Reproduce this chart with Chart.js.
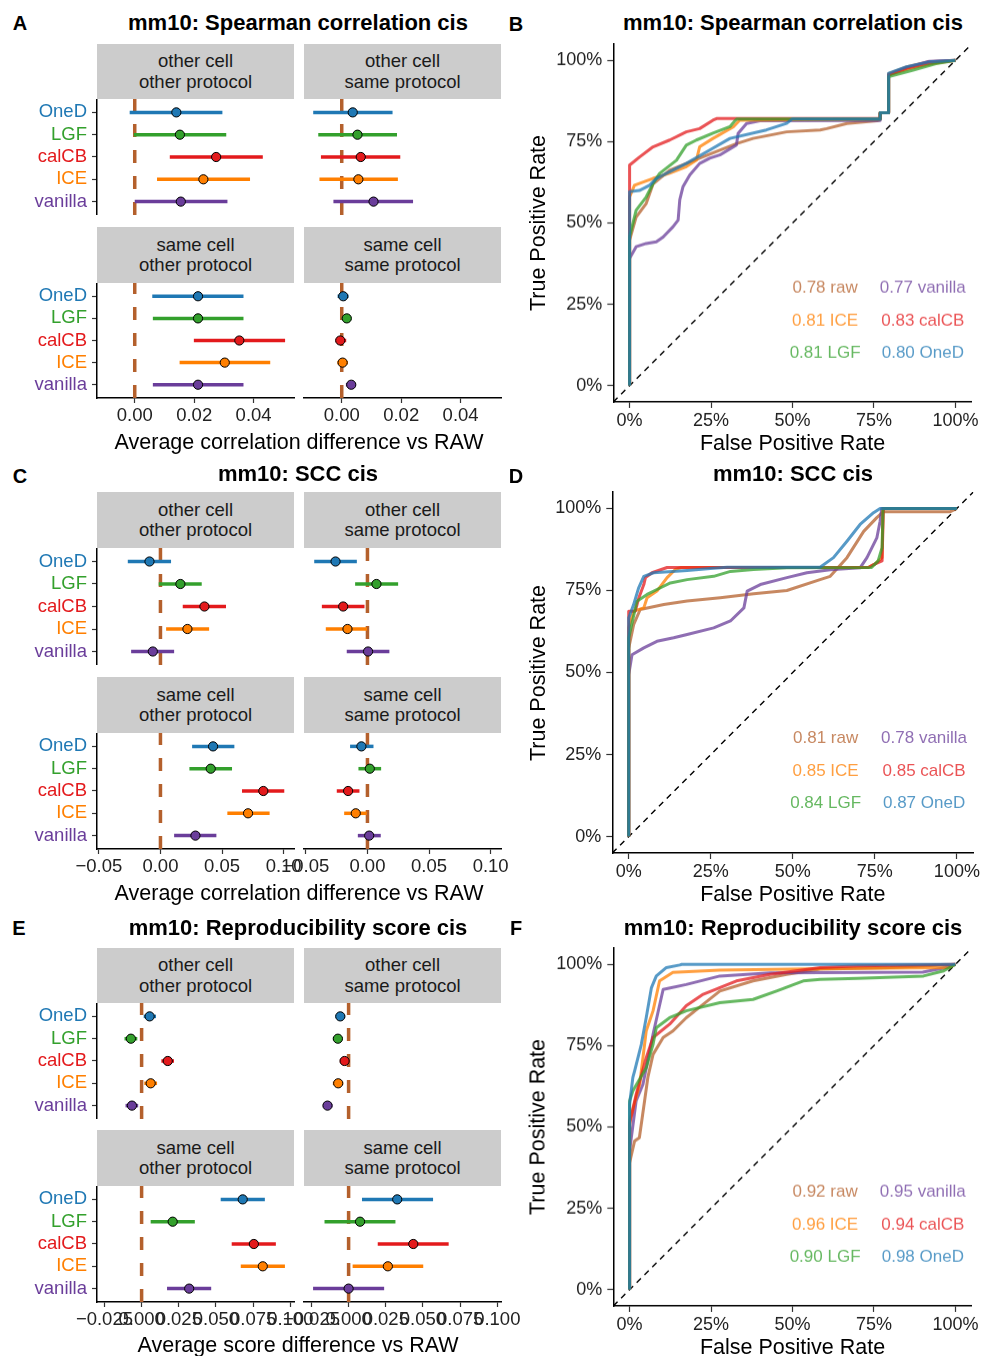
<!DOCTYPE html>
<html>
<head>
<meta charset="utf-8">
<script src="https://cdn.jsdelivr.net/npm/chart.js@4.4.1/dist/chart.umd.min.js"></script>
<style>
  body { margin: 0; background: #fff; width: 982px; height: 1356px; position: relative; overflow: hidden;
         font-family: "Liberation Sans", Arial, sans-serif; color: #000; }
  canvas { position: absolute; }
  .t { position: absolute; transform: translate(-50%, -50%); white-space: nowrap; }
  .tag { font-weight: bold; font-size: 20px; }
  .title { font-weight: bold; font-size: 22px; }
  .axt { font-size: 21.5px; }
  .yt { transform: translate(-50%, -50%) rotate(-90deg); }
  .strip { position: absolute; background: #cccccc; color: #1a1a1a; font-size: 18.5px; line-height: 20.5px;
           display: flex; align-items: center; justify-content: center; text-align: center; }
</style>
</head>
<body>
<script>
// ---- data ----------------------------------------------------------------
const methods = ['OneD', 'LGF', 'calCB', 'ICE', 'vanilla'];
const methodColors = ['#1F78B4', '#33A02C', '#E31A1C', '#FF7F00', '#6A3D9A'];
const rawColor = '#B4602C';
const facetNames = [['other cell', 'other protocol'], ['other cell', 'same protocol'],
                    ['same cell', 'other protocol'], ['same cell', 'same protocol']];

// mean difference vs RAW and its interval, one row per facet (order of facetNames)
const spearmanMean = [[0.0140, 0.0152, 0.0274, 0.0231, 0.0155],
                      [0.0037, 0.0053, 0.0064, 0.0056, 0.0107],
                      [0.0213, 0.0213, 0.0352, 0.0303, 0.0213],
                      [0.0005, 0.0017, -0.0005, 0.0003, 0.0032]];
const spearmanLow  = [[-0.0017, -0.0003, 0.0118, 0.0075, 0.0000],
                      [-0.0096, -0.0079, -0.0070, -0.0075, -0.0028],
                      [0.0059, 0.0061, 0.0199, 0.0151, 0.0061],
                      [-0.0014, 0.0000, -0.0021, -0.0015, 0.0014]];
const spearmanHigh = [[0.0295, 0.0308, 0.0431, 0.0388, 0.0312],
                      [0.0171, 0.0186, 0.0197, 0.0189, 0.0240],
                      [0.0366, 0.0366, 0.0506, 0.0456, 0.0366],
                      [0.0023, 0.0032, 0.0015, 0.0021, 0.0048]];

const sccMean = [[-0.0089, 0.0162, 0.0357, 0.0219, -0.0062],
                 [-0.0259, 0.0073, -0.0197, -0.0162, 0.0005],
                 [0.0427, 0.0408, 0.0835, 0.0711, 0.0284],
                 [-0.0049, 0.0019, -0.0157, -0.0095, 0.0014]];
const sccLow  = [[-0.0265, -0.0014, 0.0181, 0.0046, -0.0238],
                 [-0.0432, -0.0100, -0.0370, -0.0338, -0.0168],
                 [0.0257, 0.0235, 0.0662, 0.0543, 0.0111],
                 [-0.0141, -0.0073, -0.0249, -0.0189, -0.0078]];
const sccHigh = [[0.0086, 0.0335, 0.0532, 0.0395, 0.0111],
                 [-0.0086, 0.0249, -0.0024, -0.0003, 0.0178],
                 [0.0600, 0.0581, 0.1005, 0.0886, 0.0454],
                 [0.0049, 0.0111, -0.0065, -0.0005, 0.0108]];

const reproMean = [[0.0054, -0.0072, 0.0176, 0.0061, -0.0065],
                   [-0.0056, -0.0072, -0.0027, -0.0070, -0.0142],
                   [0.0680, 0.0209, 0.0755, 0.0815, 0.0320],
                   [0.0327, 0.0077, 0.0435, 0.0264, 0.0000]];
const reproLow  = [[0.0014, -0.0115, 0.0133, 0.0018, -0.0108],
                   [-0.0088, -0.0106, -0.0059, -0.0106, -0.0173],
                   [0.0532, 0.0061, 0.0606, 0.0667, 0.0171],
                   [0.0090, -0.0162, 0.0196, 0.0027, -0.0239]];
const reproHigh = [[0.0097, -0.0029, 0.0218, 0.0104, -0.0023],
                   [-0.0023, -0.0041, 0.0005, -0.0036, -0.0108],
                   [0.0829, 0.0358, 0.0903, 0.0964, 0.0468],
                   [0.0568, 0.0315, 0.0673, 0.0502, 0.0239]];

const spearmanTicks = [0, 0.02, 0.04];
const spearmanTickText = ['0.00', '0.02', '0.04'];
const sccTicks = [-0.05, 0, 0.05, 0.10];
const sccTickText = ['\u22120.05', '0.00', '0.05', '0.10'];
const reproTicks = [-0.025, 0, 0.025, 0.05, 0.075, 0.1];
const reproTickText = ['\u22120.025', '0.000', '0.025', '0.050', '0.075', '0.100'];

// ROC curves: [false positive rate, true positive rate]
const rocMethods = ['raw', 'vanilla', 'ICE', 'calCB', 'LGF', 'OneD'];
const rocColors = ['rgba(180,96,44,0.75)', 'rgba(106,61,154,0.75)', 'rgba(255,127,0,0.75)',
                   'rgba(227,26,28,0.75)', 'rgba(51,160,44,0.75)', 'rgba(31,120,180,0.75)'];
const rocTicks = [0, 0.25, 0.5, 0.75, 1];
const rocTickText = ['0%', '25%', '50%', '75%', '100%'];

const spearmanRoc = [
  [[0,0],[0,0.447],[0.02,0.518],[0.051,0.56],[0.072,0.62],[0.123,0.662],[0.174,0.683],[0.277,0.724],[0.328,0.744],[0.379,0.76],[0.482,0.78],[0.585,0.786],[0.605,0.79],[0.667,0.806],[0.759,0.814],[0.769,0.818],[0.769,0.839],[0.795,0.839],[0.795,0.959],[0.851,0.98],[0.913,0.995],[1,1]],
  [[0,0],[0,0.391],[0.02,0.427],[0.051,0.437],[0.082,0.442],[0.103,0.457],[0.133,0.488],[0.149,0.509],[0.154,0.571],[0.164,0.612],[0.185,0.648],[0.215,0.683],[0.246,0.699],[0.277,0.709],[0.328,0.74],[0.333,0.775],[0.359,0.806],[0.4,0.814],[0.769,0.815],[0.769,0.839],[0.795,0.839],[0.795,0.955],[0.851,0.978],[0.92,0.997],[1,1]],
  [[0,0],[0,0.58],[0.015,0.616],[0.072,0.637],[0.123,0.653],[0.174,0.673],[0.205,0.693],[0.215,0.734],[0.256,0.76],[0.318,0.795],[0.338,0.816],[0.769,0.82],[0.769,0.839],[0.795,0.839],[0.795,0.955],[0.86,0.975],[0.93,0.99],[1,1]],
  [[0,0],[0,0.678],[0.031,0.703],[0.072,0.734],[0.123,0.755],[0.174,0.78],[0.215,0.79],[0.256,0.816],[0.267,0.821],[0.769,0.821],[0.769,0.839],[0.795,0.839],[0.795,0.955],[0.85,0.975],[0.91,0.99],[1,1]],
  [[0,0],[0,0.458],[0.02,0.539],[0.051,0.58],[0.072,0.621],[0.092,0.652],[0.144,0.693],[0.174,0.739],[0.205,0.755],[0.256,0.776],[0.308,0.796],[0.323,0.814],[0.33,0.82],[0.769,0.82],[0.769,0.839],[0.795,0.839],[0.795,0.95],[0.87,0.97],[0.94,0.99],[1,1]],
  [[0,0],[0,0.596],[0.03,0.6],[0.0615,0.616],[0.082,0.637],[0.174,0.683],[0.246,0.724],[0.308,0.76],[0.42,0.786],[0.482,0.806],[0.5,0.82],[0.769,0.82],[0.769,0.839],[0.795,0.839],[0.795,0.96],[0.85,0.98],[0.92,0.995],[1,1]]
];
const sccRoc = [
  [[0,0],[0,0.574],[0.015,0.646],[0.035,0.692],[0.107,0.707],[0.178,0.718],[0.279,0.728],[0.381,0.74],[0.482,0.75],[0.583,0.783],[0.614,0.793],[0.665,0.85],[0.716,0.93],[0.756,0.972],[0.776,0.99],[0.98,0.99],[1,1]],
  [[0,0],[0,0.493],[0.01,0.554],[0.046,0.575],[0.086,0.595],[0.137,0.606],[0.178,0.616],[0.259,0.636],[0.31,0.657],[0.351,0.697],[0.361,0.748],[0.401,0.768],[0.482,0.789],[0.543,0.804],[0.614,0.813],[0.705,0.819],[0.726,0.85],[0.756,0.91],[0.766,0.961],[0.771,1],[1,1]],
  [[0,0],[0,0.636],[0.015,0.687],[0.046,0.697],[0.056,0.728],[0.086,0.748],[0.117,0.789],[0.142,0.814],[0.16,0.82],[0.73,0.82],[0.75,0.83],[0.772,0.85],[0.775,1],[1,1]],
  [[0,0],[0,0.687],[0.02,0.687],[0.031,0.728],[0.046,0.768],[0.051,0.789],[0.071,0.804],[0.117,0.82],[0.73,0.82],[0.746,0.829],[0.772,0.84],[0.776,1],[1,1]],
  [[0,0],[0,0.605],[0.025,0.717],[0.056,0.738],[0.086,0.753],[0.127,0.773],[0.178,0.783],[0.259,0.793],[0.31,0.808],[0.38,0.814],[0.482,0.819],[0.74,0.82],[0.76,0.84],[0.772,0.88],[0.775,1],[1,1]],
  [[0,0],[0,0.666],[0.015,0.707],[0.03,0.757],[0.046,0.793],[0.076,0.804],[0.178,0.811],[0.249,0.817],[0.3,0.821],[0.583,0.821],[0.624,0.85],[0.665,0.9],[0.705,0.951],[0.746,0.987],[0.766,1],[1,1]]
];
const reproRoc = [
  [[0,0],[0,0.39],[0.0154,0.457],[0.03,0.467],[0.046,0.58],[0.056,0.652],[0.072,0.723],[0.103,0.775],[0.133,0.795],[0.174,0.836],[0.226,0.877],[0.277,0.918],[0.379,0.949],[0.482,0.969],[0.585,0.985],[0.8,0.99],[1,1]],
  [[0,0],[0,0.427],[0.02,0.58],[0.041,0.631],[0.072,0.785],[0.103,0.923],[0.174,0.938],[0.277,0.964],[0.431,0.974],[0.9,0.976],[0.97,0.99],[1,1]],
  [[0,0],[0,0.519],[0.031,0.631],[0.051,0.795],[0.072,0.857],[0.092,0.949],[0.133,0.975],[0.277,0.982],[0.6,0.987],[0.98,0.99],[1,1]],
  [[0,0],[0,0.508],[0.02,0.6],[0.051,0.713],[0.072,0.775],[0.123,0.816],[0.174,0.873],[0.226,0.908],[0.328,0.949],[0.431,0.969],[0.585,0.99],[0.7,0.995],[1,1]],
  [[0,0],[0,0.58],[0.01,0.611],[0.051,0.682],[0.072,0.754],[0.082,0.805],[0.123,0.836],[0.174,0.857],[0.277,0.882],[0.379,0.892],[0.451,0.918],[0.533,0.949],[0.585,0.954],[0.7,0.957],[0.902,0.964],[0.964,0.98],[1,1]],
  [[0,0],[0,0.57],[0.01,0.652],[0.0154,0.672],[0.036,0.754],[0.051,0.836],[0.067,0.928],[0.082,0.964],[0.113,0.99],[0.154,0.998],[0.16,1],[1,1]]
];

const spearmanAuc = [0.78, 0.77, 0.81, 0.83, 0.81, 0.80];
const sccAuc      = [0.81, 0.78, 0.85, 0.85, 0.84, 0.87];
const reproAuc    = [0.92, 0.95, 0.96, 0.94, 0.90, 0.98];

// ---- helpers -------------------------------------------------------------
const FONT = 'Liberation Sans';
const TICK_COLOR = '#222';

function addText(cls, text, x, y) {
  const d = document.createElement('div');
  d.className = 't ' + cls;
  d.textContent = text;
  d.style.left = x + 'px';
  d.style.top = y + 'px';
  document.body.appendChild(d);
}

function addStrip(lines, left, top, right, bottom) {
  const d = document.createElement('div');
  d.className = 'strip';
  d.innerHTML = lines.join('<br>');
  Object.assign(d.style, { left: left + 'px', top: top + 'px',
    width: (right - left) + 'px', height: (bottom - top) + 'px' });
  document.body.appendChild(d);
}

function makeCanvas(left, top, w, h) {
  const c = document.createElement('canvas');
  c.width = w; c.height = h;
  Object.assign(c.style, { left: left + 'px', top: top + 'px', width: w + 'px', height: h + 'px' });
  document.body.appendChild(c);
  return c;
}

const COLS = [[97, 294], [304, 501]];

// one facet of a forest plot
function forestFacet(area, xr, ticks, tickText, showY, showX, mean, lo, hi) {
  const X_H = 45;
  const cl = showY ? 0 : area.left - 30;
  const cr = area.right + 30;
  const canvas = makeCanvas(cl, area.top, cr - cl, area.bottom - area.top + (showX ? X_H : 0));

  const yOf = i => methods.length - i;
  const datasets = [];
  // reference line at zero, drawn underneath everything
  datasets.push({ data: [{ x: 0, y: 0.4 }, { x: 0, y: 5.6 }], showLine: true, pointRadius: 0, order: 3,
    borderColor: rawColor, borderWidth: 3.5, borderDash: [13, 13] });
  methods.forEach((m, i) => {
    datasets.push({ data: [{ x: lo[i], y: yOf(i) }, { x: hi[i], y: yOf(i) }], showLine: true, order: 2,
      pointRadius: 0, borderColor: methodColors[i], borderWidth: 3.5, borderCapStyle: 'butt' });
  });
  datasets.push({ data: methods.map((m, i) => ({ x: mean[i], y: yOf(i) })), pointRadius: 4.6, order: 1,
    pointBackgroundColor: methodColors, pointBorderColor: '#000', pointBorderWidth: 1 });

  new Chart(canvas, {
    type: 'scatter',
    data: { datasets },
    options: {
      responsive: false, animation: false, events: [],
      layout: { autoPadding: false,
        padding: { left: showY ? 0 : area.left - cl, right: cr - area.right, top: 0, bottom: 0 } },
      plugins: { legend: { display: false }, tooltip: { enabled: false } },
      scales: {
        x: {
          type: 'linear', min: xr[0], max: xr[1], display: showX,
          border: { display: true, color: '#000', width: 1.5 },
          grid: { drawOnChartArea: false, drawTicks: true, tickLength: 5, tickColor: '#333', tickWidth: 1.2 },
          afterBuildTicks: s => { s.ticks = ticks.map(v => ({ value: v })); },
          ticks: { autoSkip: false, maxRotation: 0, padding: 2, color: TICK_COLOR,
            font: { family: FONT, size: 18.5 }, callback: (v, i) => tickText[i] },
          afterFit: s => { if (showX) { s.height = X_H; s.paddingLeft = 0; s.paddingRight = 0; } }
        },
        y: {
          type: 'linear', min: 0.4, max: 5.6, display: showY,
          border: { display: true, color: '#000', width: 1.5 },
          grid: { drawOnChartArea: false, drawTicks: true, tickLength: 5, tickColor: '#333', tickWidth: 1.2 },
          afterBuildTicks: s => { s.ticks = [1, 2, 3, 4, 5].map(v => ({ value: v })); },
          ticks: { autoSkip: false, padding: 5, font: { family: FONT, size: 18.5 },
            color: ctx => methodColors[methods.length - ctx.tick.value],
            callback: v => methods[methods.length - v] },
          afterFit: s => { if (showY) { s.width = area.left - cl; s.paddingTop = 0; s.paddingBottom = 0; } }
        }
      }
    }
  });
}

function forestPanel(rows, xr, ticks, tickText, mean, lo, hi) {
  // rows: [[stripTop, plotTop, plotBottom], [stripTop, plotTop, plotBottom]]
  for (let r = 0; r < 2; r++) {
    for (let c = 0; c < 2; c++) {
      const f = r * 2 + c;
      const [st, pt, pb] = rows[r];
      addStrip(facetNames[f], COLS[c][0], st, COLS[c][1], pt);
      forestFacet({ left: COLS[c][0], right: COLS[c][1], top: pt, bottom: pb },
        xr, ticks, tickText, c === 0, r === 1, mean[f], lo[f], hi[f]);
    }
  }
}

// ROC panel with AUC labels
const aucSpots = [[0.6, 0.3], [0.9, 0.3], [0.6, 0.2], [0.9, 0.2], [0.6, 0.1], [0.9, 0.1]];

function rocChart(area, curves, auc) {
  const cl = 520, ct = area.top - 12, X_H = 40;
  const canvas = makeCanvas(cl, ct, 982 - cl, area.bottom - ct + X_H);
  const datasets = [{ data: [{ x: -0.05, y: -0.05 }, { x: 1.05, y: 1.05 }], showLine: true, pointRadius: 0,
    order: 100, borderColor: '#000', borderWidth: 1.4, borderDash: [6, 5] }];
  curves.forEach((pts, i) => {
    // later methods sit on top (lower order is drawn last)
    datasets.push({ data: pts.map(p => ({ x: p[0], y: p[1] })), showLine: true, pointRadius: 0,
      order: curves.length - i, borderColor: rocColors[i], borderWidth: 3, borderJoinStyle: 'round' });
  });
  const aucLabels = {
    id: 'aucLabels',
    afterDatasetsDraw(chart) {
      const { ctx, scales: { x, y } } = chart;
      ctx.save();
      ctx.font = '17px "' + FONT + '"';
      ctx.textAlign = 'center';
      ctx.textBaseline = 'middle';
      rocMethods.forEach((m, i) => {
        ctx.fillStyle = rocColors[i];
        ctx.fillText(auc[i].toFixed(2) + ' ' + m, x.getPixelForValue(aucSpots[i][0]), y.getPixelForValue(aucSpots[i][1]));
      });
      ctx.restore();
    }
  };
  const axisCommon = {
    type: 'linear', min: -0.05, max: 1.05,
    border: { display: true, color: '#000', width: 1.5 },
    grid: { drawOnChartArea: false, drawTicks: true, tickLength: 6, tickColor: '#333', tickWidth: 1.2 },
    afterBuildTicks: s => { s.ticks = rocTicks.map(v => ({ value: v })); }
  };
  new Chart(canvas, {
    type: 'scatter',
    data: { datasets },
    plugins: [aucLabels],
    options: {
      responsive: false, animation: false, events: [],
      layout: { autoPadding: false,
        padding: { top: area.top - ct, right: 982 - area.right, left: 0, bottom: 0 } },
      plugins: { legend: { display: false }, tooltip: { enabled: false } },
      scales: {
        x: Object.assign({}, axisCommon, {
          ticks: { autoSkip: false, maxRotation: 0, padding: 2, color: TICK_COLOR,
            font: { family: FONT, size: 18 }, callback: (v, i) => rocTickText[i] },
          afterFit: s => { s.height = X_H; s.paddingLeft = 0; s.paddingRight = 0; }
        }),
        y: Object.assign({}, axisCommon, {
          ticks: { autoSkip: false, padding: 5, color: TICK_COLOR, font: { family: FONT, size: 18 },
            callback: (v, i) => rocTickText[i] },
          afterFit: s => { s.width = area.left - cl; s.paddingTop = 0; s.paddingBottom = 0; }
        })
      }
    }
  });
  const cx = (area.left + area.right) / 2, cy = (area.top + area.bottom) / 2;
  addText('axt', 'False Positive Rate', cx, area.bottom + 41);
  addText('axt yt', 'True Positive Rate', 538, cy);
}

// ---- panels A / B ----------------------------------------------------------
addText('tag', 'A', 20, 23);
addText('title', 'mm10: Spearman correlation cis', 298, 23);
forestPanel([[44, 99, 215], [227, 283, 398]], [-0.0127, 0.0536], spearmanTicks, spearmanTickText,
  spearmanMean, spearmanLow, spearmanHigh);
addText('axt', 'Average correlation difference vs RAW', 299, 442);

addText('tag', 'B', 516, 24);
addText('title', 'mm10: Spearman correlation cis', 793, 23);
rocChart({ left: 613.3, right: 971.7, top: 44, bottom: 401.7 }, spearmanRoc, spearmanAuc);

// ---- panels C / D ----------------------------------------------------------
addText('tag', 'C', 20, 476);
addText('title', 'mm10: SCC cis', 298, 474);
forestPanel([[492, 548, 665], [677, 733, 849]], [-0.0515, 0.1084], sccTicks, sccTickText,
  sccMean, sccLow, sccHigh);
addText('axt', 'Average correlation difference vs RAW', 299, 893);

addText('tag', 'D', 516, 476);
addText('title', 'mm10: SCC cis', 793, 474);
rocChart({ left: 612.3, right: 973.3, top: 492, bottom: 853.3 }, sccRoc, sccAuc);

// ---- panels E / F ----------------------------------------------------------
addText('tag', 'E', 19, 928);
addText('title', 'mm10: Reproducibility score cis', 298, 928);
forestPanel([[948, 1003, 1119], [1130, 1186, 1302]], [-0.030, 0.1025], reproTicks, reproTickText,
  reproMean, reproLow, reproHigh);
addText('axt', 'Average score difference vs RAW', 298, 1345);

addText('tag', 'F', 516, 928);
addText('title', 'mm10: Reproducibility score cis', 793, 928);
rocChart({ left: 613.3, right: 971.7, top: 948, bottom: 1305.7 }, reproRoc, reproAuc);
</script>
</body>
</html>
